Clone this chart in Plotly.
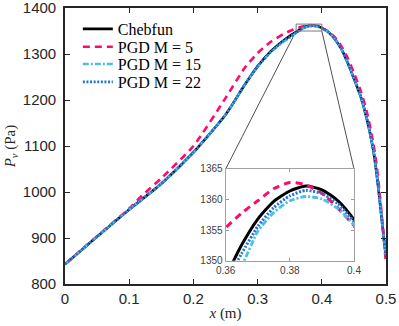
import plotly.graph_objects as go

# ---------------- data ----------------
x_cheb = [0, 0.05, 0.1, 0.15, 0.2, 0.25, 0.28, 0.3, 0.32, 0.34, 0.35, 0.36, 0.365, 0.37, 0.375,
          0.38, 0.385, 0.39, 0.395, 0.4, 0.41, 0.42, 0.43, 0.44, 0.45, 0.46, 0.47, 0.48, 0.485,
          0.49, 0.495, 0.5]
y_cheb = [843, 903, 962, 1018, 1086, 1168, 1233, 1273, 1305, 1329, 1339, 1347.5, 1352.6, 1356.8, 1359.7,
          1361.4, 1362.2, 1361.6, 1359.8, 1356.7, 1348, 1333, 1312, 1282, 1247, 1210, 1160, 1093, 1045,
          985, 920, 858]

x_m5 = [0, 0.05, 0.1, 0.12, 0.15, 0.2, 0.25, 0.28, 0.3, 0.32, 0.34, 0.35, 0.36, 0.365, 0.37, 0.375,
        0.38, 0.385, 0.39, 0.395, 0.4, 0.41, 0.42, 0.43, 0.44, 0.45, 0.46, 0.47, 0.48, 0.485,
        0.49, 0.495, 0.5]
y_m5 = [843, 904, 964, 992, 1030, 1100, 1204, 1270, 1302, 1326, 1343, 1350, 1355.4, 1357.8, 1359.8, 1361.8,
        1362.8, 1362.4, 1361.0, 1358.6, 1355.7, 1349, 1337, 1318, 1292, 1259, 1222, 1175, 1108, 1062,
        1000, 925, 843]

x_m15 = x_cheb
y_m15 = [843, 903, 962, 1018, 1086, 1168, 1233, 1272, 1303, 1326, 1335, 1345.5, 1349.2, 1354.8, 1357.9,
         1359.8, 1360.5, 1360.1, 1358.5, 1355.8, 1347.5, 1333, 1312, 1282, 1247, 1210, 1160, 1093, 1045,
         985, 920, 858]

x_m22 = x_cheb
y_m22 = [843, 903, 962, 1018, 1086, 1168, 1233, 1273, 1304, 1328, 1337, 1346.5, 1351.2, 1355.6, 1358.7,
         1360.6, 1361.5, 1361.0, 1359.3, 1356.4, 1348, 1333, 1312, 1282, 1247, 1210, 1160, 1093, 1045,
         985, 920, 858]

names = ["Chebfun", "PGD M = 5", "PGD M = 15", "PGD M = 22"]
colors = ["#000000", "#ff0a6c", "#4dbfe6", "#1f74d6"]
dashes = ["solid", "7px,5px", "6px,2px,2px,2px", "2px,1.6px"]
widths = [2.6, 2.6, 2.4, 2.6]
legend_ids = ["legend", "legend2", "legend3", "legend4"]
legend_rows = [0.924, 0.859, 0.797, 0.732]

main_xrange = [0, 0.5]
main_yrange = [800, 1400]
main_xticks = [0, 0.1, 0.2, 0.3, 0.4, 0.5]
main_xticklabels = ["0", "0.1", "0.2", "0.3", "0.4", "0.5"]
main_yticks = [800, 900, 1000, 1100, 1200, 1300, 1400]

inset_xrange = [0.36, 0.4]
inset_yrange = [1350, 1365]
inset_xticks = [0.36, 0.38, 0.4]
inset_xticklabels = ["0.36", "0.38", "0.4"]
inset_yticks = [1350, 1355, 1360, 1365]
inset_xdomain = [0.5006, 0.9003]
inset_ydomain = [0.0844, 0.4167]

series = [(x_cheb, y_cheb), (x_m5, y_m5), (x_m15, y_m15), (x_m22, y_m22)]

fig = go.Figure()

def paper_to_main(px, py):
    return (main_xrange[0] + px * (main_xrange[1] - main_xrange[0]),
            main_yrange[0] + py * (main_yrange[1] - main_yrange[0]))

tl = paper_to_main(inset_xdomain[0], inset_ydomain[1])
tr = paper_to_main(inset_xdomain[1], inset_ydomain[1])
fig.add_trace(go.Scatter(x=[inset_xrange[0], tl[0], None, inset_xrange[1], tr[0]],
                         y=[inset_yrange[0], tl[1], None, inset_yrange[0], tr[1]],
                         mode="lines", line=dict(color="#222222", width=0.8),
                         showlegend=False, hoverinfo="skip", xaxis="x", yaxis="y"))

for (xs, ys), n, c, d, w, lg in zip(series, names, colors, dashes, widths, legend_ids):
    fig.add_trace(go.Scatter(x=xs, y=ys, name=n, mode="lines", legend=lg,
                             line=dict(color=c, dash=d, width=w, shape="spline", smoothing=0.6),
                             xaxis="x", yaxis="y"))
for (xs, ys), n, c, d, w in zip(series, names, colors, dashes, widths):
    fig.add_trace(go.Scatter(x=xs, y=ys, name=n, mode="lines", showlegend=False,
                             line=dict(color=c, dash=d, width=w + 0.4, shape="spline", smoothing=0.6),
                             xaxis="x2", yaxis="y2"))

fig.add_shape(type="rect", xref="x", yref="y",
              x0=inset_xrange[0], x1=inset_xrange[1], y0=inset_yrange[0], y1=inset_yrange[1],
              line=dict(color="#777777", width=1))

axcol = "#262626"
legend_style = dict(x=0.04, xanchor="left", yanchor="middle", bgcolor="rgba(0,0,0,0)",
                    font=dict(family="Liberation Serif", size=16, color="#000000"),
                    itemwidth=30, borderwidth=0)
legends = {lid: dict(legend_style, y=yr) for lid, yr in zip(legend_ids, legend_rows)}

fig.update_layout(
    width=399, height=326,
    margin=dict(l=65, r=13, t=8, b=42, autoexpand=False),
    paper_bgcolor="white", plot_bgcolor="white",
    font=dict(family="Liberation Sans", size=15, color=axcol),
    xaxis=dict(domain=[0, 1], range=main_xrange, tickvals=main_xticks, ticktext=main_xticklabels,
               ticks="inside", ticklen=5, tickwidth=1.2, tickcolor=axcol, showgrid=False, zeroline=False,
               showline=True, linecolor=axcol, linewidth=1.6, mirror="ticks", automargin=False,
               ticklabeloverflow="allow",
               title=dict(text="<i>x</i> (m)", font=dict(family="Liberation Serif", size=15), standoff=2)),
    yaxis=dict(domain=[0, 1], range=main_yrange, tickvals=main_yticks,
               ticks="inside", ticklen=5, tickwidth=1.2, tickcolor=axcol, showgrid=False, zeroline=False,
               showline=True, linecolor=axcol, linewidth=1.6, mirror="ticks", automargin=False,
               ticklabelstandoff=4, ticklabeloverflow="allow",
               title=dict(text="<i>P<sub>v</sub></i> (Pa)", font=dict(family="Liberation Serif", size=15), standoff=4)),
    xaxis2=dict(domain=inset_xdomain, range=inset_xrange, anchor="y2", tickvals=inset_xticks,
                ticktext=inset_xticklabels, ticks="inside", ticklen=3, tickcolor="#999999",
                showgrid=False, zeroline=False, showline=True, linecolor="#a0a0a0", linewidth=1.2,
                mirror="ticks", tickfont=dict(size=10, color="#404040"), automargin=False,
                ticklabeloverflow="allow"),
    yaxis2=dict(domain=inset_ydomain, range=inset_yrange, anchor="x2", tickvals=inset_yticks,
                ticks="inside", ticklen=3, tickcolor="#999999",
                showgrid=False, zeroline=False, showline=True, linecolor="#a0a0a0", linewidth=1.2,
                mirror="ticks", tickfont=dict(size=10, color="#404040"), automargin=False,
                ticklabeloverflow="allow"),
    showlegend=True,
    **legends,
)

fig.write_html("out.html", config={"displayModeBar": False},
               post_script="document.body.style.margin='0px';")
